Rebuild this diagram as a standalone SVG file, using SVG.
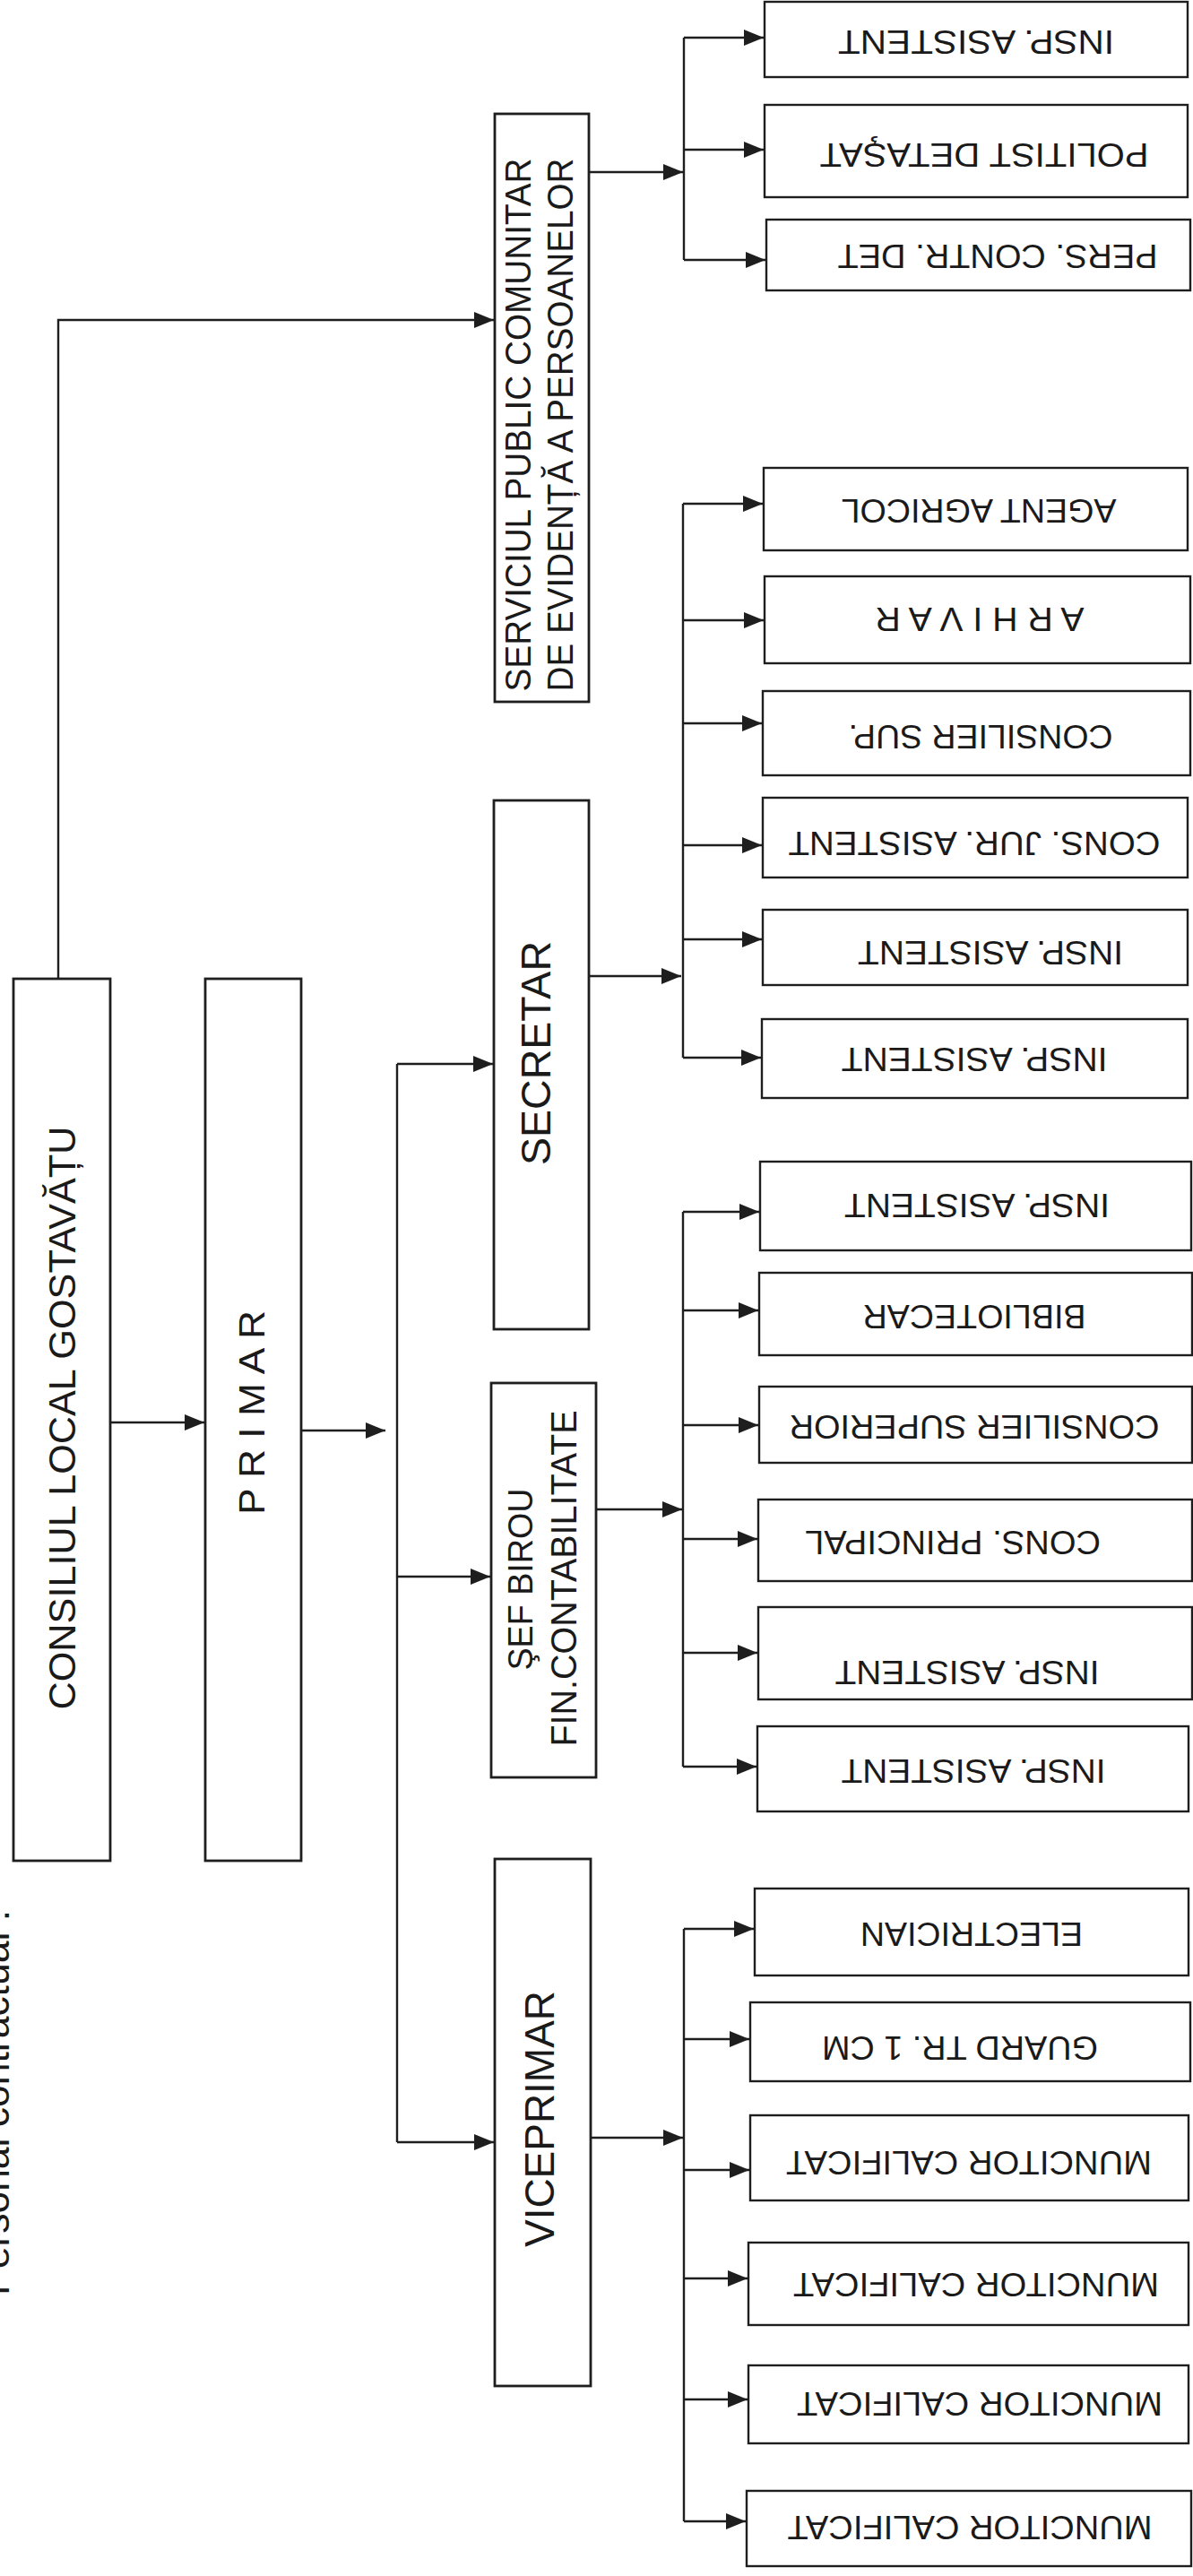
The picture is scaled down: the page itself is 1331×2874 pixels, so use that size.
<svg xmlns="http://www.w3.org/2000/svg" width="1331" height="2874" viewBox="0 0 1331 2874">
<style>
.box{fill:#fff;stroke:#1e1e1e;stroke-width:2.8}
.leaf{fill:#fff;stroke:#1e1e1e;stroke-width:2.4}
.t{font-family:"Liberation Sans",Arial,sans-serif;fill:#1a1a1a}
.lt{font-size:37px;text-anchor:middle}
.c{fill:none;stroke:#1e1e1e;stroke-width:2.4}
.a{marker-end:url(#ah)}
</style>
<defs>
<marker id="ah" markerUnits="userSpaceOnUse" markerWidth="22" markerHeight="18" refX="22" refY="9" orient="auto">
<path d="M0,0 L22,9 L0,18 Z" fill="#1e1e1e"/>
</marker>
</defs>
<rect width="1331" height="2874" fill="#fff"/>

<text class="t" x="10" y="2561" font-size="44" textLength="430" lengthAdjust="spacingAndGlyphs" transform="rotate(-90 10 2561)">Personal contractual :</text>

<g id="connectors">
<path class="c a" d="M65,1092 V357 H551"/>
<path class="c a" d="M123,1587 H228"/>
<path class="c a" d="M336,1596 H430"/>
<path class="c" d="M443,1187 V2390"/>
<path class="c a" d="M443,1187 H550"/>
<path class="c a" d="M443,1759 H547"/>
<path class="c a" d="M443,2390 H551"/>

<path class="c a" d="M657,192 H762"/>
<path class="c" d="M763,42 V290"/>
<path class="c a" d="M763,42 H852"/>
<path class="c a" d="M763,167 H852"/>
<path class="c a" d="M763,290 H854"/>

<path class="c a" d="M657,1089 H760"/>
<path class="c" d="M762,562 V1180"/>
<path class="c a" d="M762,562 H851"/>
<path class="c a" d="M762,692 H852"/>
<path class="c a" d="M762,807 H850"/>
<path class="c a" d="M762,943 H850"/>
<path class="c a" d="M762,1048 H850"/>
<path class="c a" d="M762,1180 H849"/>

<path class="c a" d="M665,1684 H761"/>
<path class="c" d="M762,1352 V1971"/>
<path class="c a" d="M762,1352 H847"/>
<path class="c a" d="M762,1462 H846"/>
<path class="c a" d="M762,1590 H846"/>
<path class="c a" d="M762,1717 H845"/>
<path class="c a" d="M762,1844 H845"/>
<path class="c a" d="M762,1971 H844"/>

<path class="c a" d="M659,2385 H762"/>
<path class="c" d="M763,2152 V2813"/>
<path class="c a" d="M763,2152 H841"/>
<path class="c a" d="M763,2275 H836"/>
<path class="c a" d="M763,2421 H836"/>
<path class="c a" d="M763,2542 H834"/>
<path class="c a" d="M763,2677 H834"/>
<path class="c a" d="M763,2813 H832"/>
</g>

<g id="consiliul">
<rect class="box" x="15" y="1092" width="108" height="984"/>
<text class="t" x="69" y="1597" font-size="43" text-anchor="middle" textLength="651" lengthAdjust="spacingAndGlyphs" transform="rotate(-90 69 1582)">CONSILIUL LOCAL GOSTAVĂȚU</text>
</g>
<g id="primar">
<rect class="box" x="229" y="1092" width="107" height="984"/>
<text class="t" x="280" y="1590.7" font-size="41" text-anchor="middle" textLength="228" lengthAdjust="spacingAndGlyphs" transform="rotate(-90 280 1576)">P R I M A R</text>
</g>
<g id="serviciul">
<rect class="box" x="552" y="127" width="105" height="656"/>
<text class="t" x="577" y="488.7" font-size="41" text-anchor="middle" textLength="595" lengthAdjust="spacingAndGlyphs" transform="rotate(-90 577 474)">SERVICIUL PUBLIC COMUNITAR</text>
<text class="t" x="624" y="488.7" font-size="41" text-anchor="middle" textLength="595" lengthAdjust="spacingAndGlyphs" transform="rotate(-90 624 474)">DE EVIDENȚĂ A PERSOANELOR</text>
</g>
<g id="secretar">
<rect class="box" x="551" y="893" width="106" height="590"/>
<text class="t" x="597" y="1191.8" font-size="47" text-anchor="middle" textLength="250" lengthAdjust="spacingAndGlyphs" transform="rotate(-90 597 1175)">SECRETAR</text>
</g>
<g id="sef-birou">
<rect class="box" x="548" y="1543" width="117" height="440"/>
<text class="t" x="580" y="1776" font-size="39" text-anchor="middle" textLength="203" lengthAdjust="spacingAndGlyphs" transform="rotate(-90 580 1762)">ŞEF BIROU</text>
<text class="t" x="628" y="1775.7" font-size="41" text-anchor="middle" textLength="375" lengthAdjust="spacingAndGlyphs" transform="rotate(-90 628 1761)">FIN.CONTABILITATE</text>
</g>
<g id="viceprimar">
<rect class="box" x="552" y="2074" width="107" height="588"/>
<text class="t" x="601" y="2380.8" font-size="47" text-anchor="middle" textLength="286" lengthAdjust="spacingAndGlyphs" transform="rotate(-90 601 2364)">VICEPRIMAR</text>
</g>

<g id="leaf-1"><rect class="leaf" x="853" y="2" width="472" height="84"/><text class="t lt" x="1089" y="60.2" textLength="308" lengthAdjust="spacingAndGlyphs" transform="rotate(180 1089 47)">INSP. ASISTENT</text></g>
<g id="leaf-2"><rect class="leaf" x="853" y="117" width="472" height="103"/><text class="t lt" x="1098" y="186.2" textLength="367" lengthAdjust="spacingAndGlyphs" transform="rotate(180 1098 173)">POLITIST DETAŞAT</text></g>
<g id="leaf-3"><rect class="leaf" x="855" y="245" width="473" height="79"/><text class="t lt" x="1113" y="299.2" textLength="357" lengthAdjust="spacingAndGlyphs" transform="rotate(180 1113 286)">PERS. CONTR. DET</text></g>

<g id="leaf-4"><rect class="leaf" x="852" y="522" width="473" height="92"/><text class="t lt" x="1092" y="583.2" textLength="307" lengthAdjust="spacingAndGlyphs" transform="rotate(180 1092 570)">AGENT AGRICOL</text></g>
<g id="leaf-5"><rect class="leaf" x="853" y="643" width="475" height="97"/><text class="t lt" x="1093" y="704.2" textLength="233" lengthAdjust="spacingAndGlyphs" transform="rotate(180 1093 691)">A R H I V A R</text></g>
<g id="leaf-6"><rect class="leaf" x="851" y="771" width="477" height="94"/><text class="t lt" x="1094" y="835.2" textLength="295" lengthAdjust="spacingAndGlyphs" transform="rotate(180 1094 822)">CONSILIER SUP.</text></g>
<g id="leaf-7"><rect class="leaf" x="851" y="890" width="474" height="89"/><text class="t lt" x="1087" y="954.2" textLength="415" lengthAdjust="spacingAndGlyphs" transform="rotate(180 1087 941)">CONS. JUR. ASISTENT</text></g>
<g id="leaf-8"><rect class="leaf" x="851" y="1015" width="474" height="84"/><text class="t lt" x="1105" y="1076.2" textLength="296" lengthAdjust="spacingAndGlyphs" transform="rotate(180 1105 1063)">INSP. ASISTENT</text></g>
<g id="leaf-9"><rect class="leaf" x="850" y="1137" width="475" height="88"/><text class="t lt" x="1087" y="1195.2" textLength="297" lengthAdjust="spacingAndGlyphs" transform="rotate(180 1087 1182)">INSP. ASISTENT</text></g>

<g id="leaf-10"><rect class="leaf" x="848" y="1296" width="481" height="99"/><text class="t lt" x="1090" y="1358.2" textLength="296" lengthAdjust="spacingAndGlyphs" transform="rotate(180 1090 1345)">INSP. ASISTENT</text></g>
<g id="leaf-11"><rect class="leaf" x="847" y="1420" width="483" height="92"/><text class="t lt" x="1087" y="1482.2" textLength="249" lengthAdjust="spacingAndGlyphs" transform="rotate(180 1087 1469)">BIBLIOTECAR</text></g>
<g id="leaf-12"><rect class="leaf" x="847" y="1547" width="483" height="85"/><text class="t lt" x="1087" y="1605.2" textLength="413" lengthAdjust="spacingAndGlyphs" transform="rotate(180 1087 1592)">CONSILIER SUPERIOR</text></g>
<g id="leaf-13"><rect class="leaf" x="846" y="1673" width="484" height="91"/><text class="t lt" x="1063" y="1734.2" textLength="330" lengthAdjust="spacingAndGlyphs" transform="rotate(180 1063 1721)">CONS. PRINCIPAL</text></g>
<g id="leaf-14"><rect class="leaf" x="846" y="1793" width="484" height="103"/><text class="t lt" x="1079" y="1879.2" textLength="295" lengthAdjust="spacingAndGlyphs" transform="rotate(180 1079 1866)">INSP. ASISTENT</text></g>
<g id="leaf-15"><rect class="leaf" x="845" y="1926" width="481" height="95"/><text class="t lt" x="1086" y="1989.2" textLength="295" lengthAdjust="spacingAndGlyphs" transform="rotate(180 1086 1976)">INSP. ASISTENT</text></g>

<g id="leaf-16"><rect class="leaf" x="842" y="2107" width="484" height="97"/><text class="t lt" x="1084" y="2171.2" textLength="248" lengthAdjust="spacingAndGlyphs" transform="rotate(180 1084 2158)">ELECTRICIAN</text></g>
<g id="leaf-17"><rect class="leaf" x="837" y="2234" width="491" height="88"/><text class="t lt" x="1071" y="2298.2" textLength="308" lengthAdjust="spacingAndGlyphs" transform="rotate(180 1071 2285)">GUARD TR. 1 CM</text></g>
<g id="leaf-18"><rect class="leaf" x="837" y="2360" width="489" height="95"/><text class="t lt" x="1081" y="2426.2" textLength="408" lengthAdjust="spacingAndGlyphs" transform="rotate(180 1081 2413)">MUNCITOR CALIFICAT</text></g>
<g id="leaf-19"><rect class="leaf" x="835" y="2502" width="491" height="92"/><text class="t lt" x="1089" y="2562.2" textLength="408" lengthAdjust="spacingAndGlyphs" transform="rotate(180 1089 2549)">MUNCITOR CALIFICAT</text></g>
<g id="leaf-20"><rect class="leaf" x="835" y="2639" width="491" height="87"/><text class="t lt" x="1093" y="2695.2" textLength="408" lengthAdjust="spacingAndGlyphs" transform="rotate(180 1093 2682)">MUNCITOR CALIFICAT</text></g>
<g id="leaf-21"><rect class="leaf" x="833" y="2779" width="496" height="84"/><text class="t lt" x="1082" y="2833.2" textLength="407" lengthAdjust="spacingAndGlyphs" transform="rotate(180 1082 2820)">MUNCITOR CALIFICAT</text></g>
</svg>
